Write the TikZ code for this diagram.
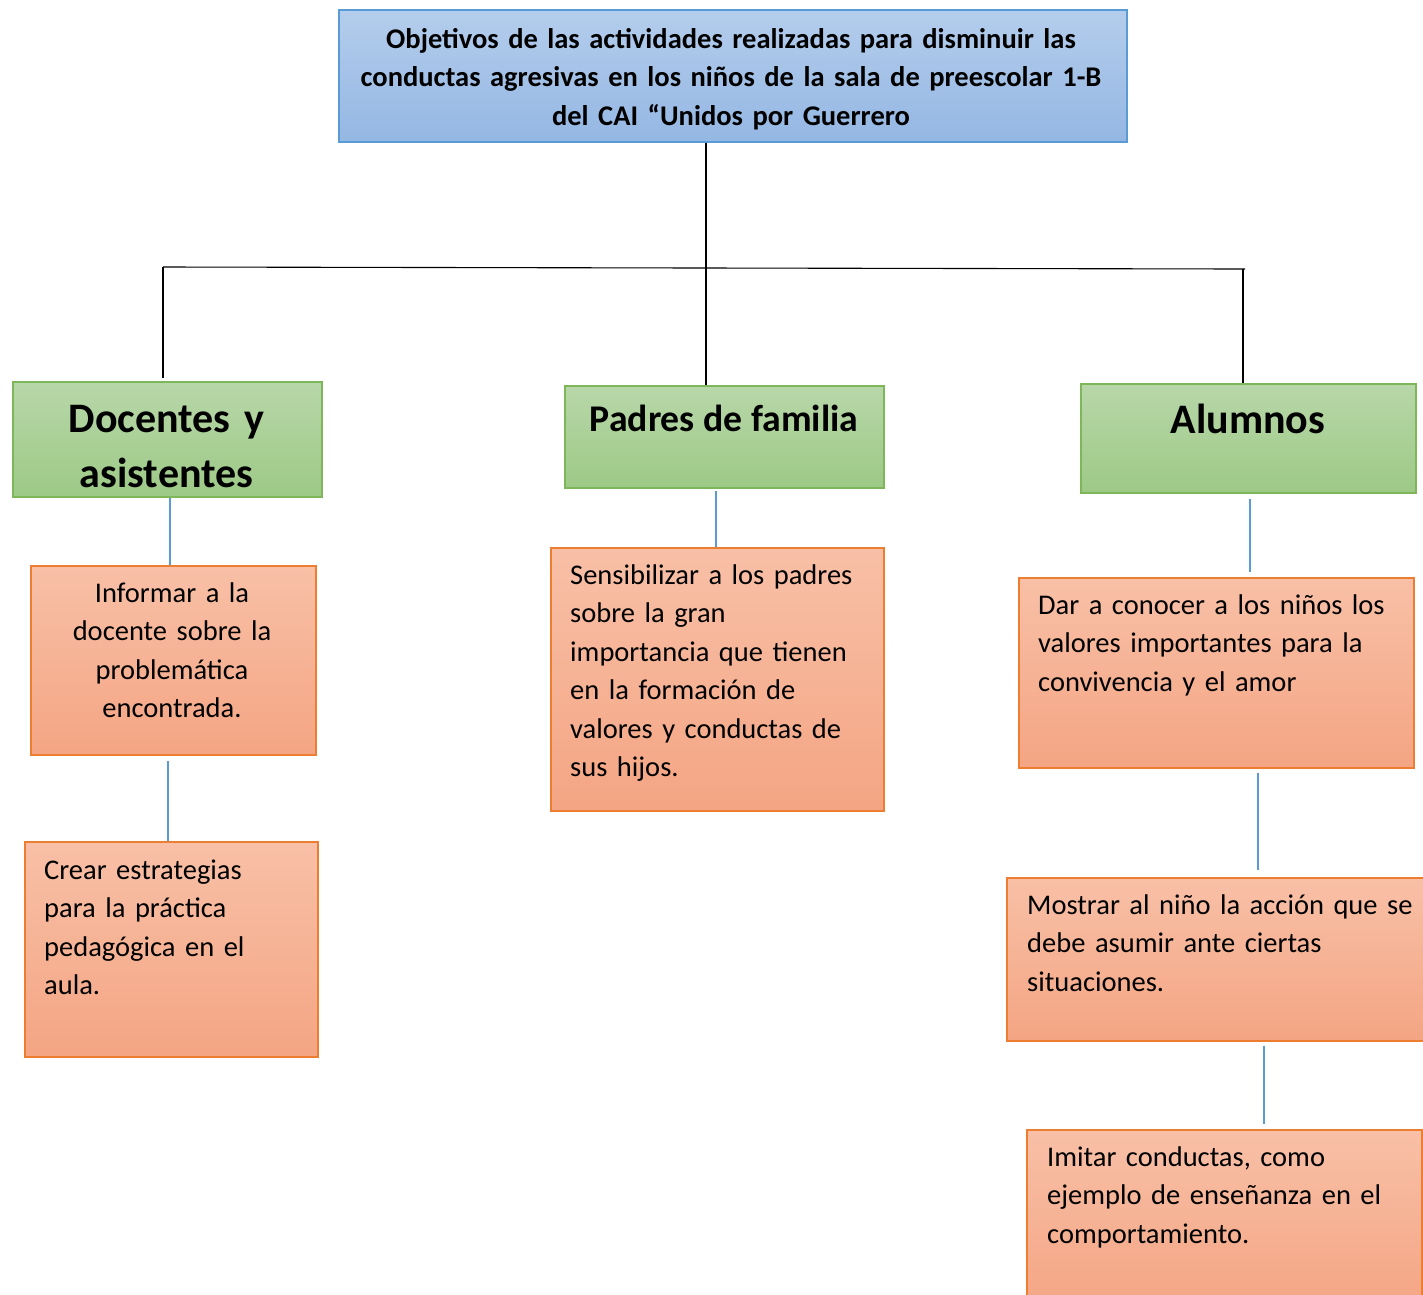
\documentclass[tikz,border=0pt]{standalone}
\usepackage{fontspec}
\setmainfont{Carlito}
\usepackage{tikz}
\definecolor{bluetop}{RGB}{180,205,236}
\definecolor{bluebot}{RGB}{148,183,227}
\definecolor{blueline}{RGB}{91,155,213}
\definecolor{greentop}{RGB}{184,215,169}
\definecolor{greenbot}{RGB}{157,201,134}
\definecolor{greenline}{RGB}{125,183,90}
\definecolor{orangetop}{RGB}{248,192,167}
\definecolor{orangebot}{RGB}{244,165,131}
\definecolor{orangeline}{RGB}{237,125,49}
\newcommand{\objbox}[6]{\node[#6, minimum width=#4pt, minimum height=#5pt, anchor=north west] (#1) at (#2,#3) {};}
\newcommand{\bodytext}{\fontsize{28.5}{38.5}\selectfont}

\begin{document}
\begin{tikzpicture}[x=1pt, y=-1pt,
    titlebox/.style={draw=blueline, line width=1.5pt, top color=bluetop, bottom color=bluebot, inner sep=0pt},
    groupbox/.style={draw=greenline, line width=1.5pt, top color=greentop, bottom color=greenbot, inner sep=0pt},
    actbox/.style={draw=orangeline, line width=1.5pt, top color=orangetop, bottom color=orangebot, inner sep=0pt},
    txt/.style={inner sep=0pt, font=\bodytext, align=left},
    tree/.style={draw=black, line width=1.1pt},
    tie/.style={draw=blueline, line width=1.5pt}]
\useasboundingbox (0,0) rectangle (1423,1294);
\objbox{titulo}{338}{9}{788}{132}{titlebox}
\objbox{docentes}{12}{381}{309}{115}{groupbox}
\objbox{padres}{564}{385}{319}{102}{groupbox}
\objbox{alumnos}{1080}{383}{335}{109}{groupbox}
\objbox{informar}{30}{565}{285}{189}{actbox}
\objbox{crear}{24}{841}{293}{215}{actbox}
\objbox{sensibilizar}{550}{547}{333}{263}{actbox}
\objbox{dar}{1018}{577}{395}{190}{actbox}
\objbox{mostrar}{1006}{877}{417}{163}{actbox}
\objbox{imitar}{1026}{1129}{395}{180}{actbox}
% texts
\node[txt, anchor=base, text width=760pt, align=center, font=\bfseries\bodytext] (titulot) at (731,48)
  {Objetivos de las actividades realizadas para disminuir las\\ conductas agresivas en los niños de la sala de preescolar 1-B\\ del CAI “Unidos por Guerrero};
\node[txt, anchor=base, text width=300pt, align=center, font=\bfseries\fontsize{42}{55}\selectfont] (docentest) at (166.5,432) {Docentes y\\ asistentes};
\node[txt, anchor=base, font=\bfseries\fontsize{37.7}{44}\selectfont] (padrest) at (724,431) {Padres de familia};
\node[txt, anchor=base, font=\bfseries\fontsize{42}{55}\selectfont] (alumnost) at (1248,433) {Alumnos};
\node[txt, anchor=base, text width=270pt, align=center] (informart) at (172,602)
  {Informar a la\\ docente sobre la\\ problemática\\ encontrada.};
\node[txt, anchor=base west, text width=260pt] (creart) at (44,879)
  {Crear estrategias\\ para la práctica\\ pedagógica en el\\ aula.};
\node[txt, anchor=base west, text width=310pt] (sensibilizart) at (570,584)
  {Sensibilizar a los padres\\ sobre la gran\\ importancia que tienen\\ en la formación de\\ valores y conductas de\\ sus hijos.};
\node[txt, anchor=base west, text width=370pt] (dart) at (1038,614)
  {Dar a conocer a los niños los\\ valores importantes para la\\ convivencia y el amor};
\node[txt, anchor=base west, text width=390pt] (mostrart) at (1027,914)
  {Mostrar al niño la acción que se\\ debe asumir ante ciertas\\ situaciones.};
\node[txt, anchor=base west, text width=370pt] (imitart) at (1047,1166)
  {Imitar conductas, como\\ ejemplo de enseñanza en el\\ comportamiento.};
% tree lines
\coordinate (jl) at (163,267);
\coordinate (jm) at (706,268);
\coordinate (jr) at (1245,269);
\draw[tree] (jl) -- (jr);
\draw[tree] (titulo.south -| jm) -- (padres.north -| jm);
\draw[tree, shorten >=3pt] (jl) -- (docentes.north -| jl);
\draw[tree] ([xshift=-2pt]jr) -- ([xshift=-2pt]alumnos.north -| jr);
% blue ties
\draw[tie] ([xshift=2.5pt]docentes.south) -- ([xshift=2.5pt]docentes.south |- informar.north);
\draw[tie, shorten <=5pt] ([xshift=-5.5pt]informar.south) -- ([xshift=-5.5pt]informar.south |- crear.north);
\draw[tie, shorten <=2pt] ([xshift=-8.5pt]padres.south) -- ([xshift=-8.5pt]padres.south |- sensibilizar.north);
\draw[tie, shorten <=5pt, shorten >=5pt] ([xshift=1.5pt]alumnos.south) -- ([xshift=1.5pt]alumnos.south |- dar.north);
\draw[tie, shorten <=4pt, shorten >=7pt] ([xshift=41.5pt]dar.south) -- ([xshift=41.5pt]dar.south |- mostrar.north);
\draw[tie, shorten <=4pt, shorten >=5pt] ([xshift=48.5pt]mostrar.south) -- ([xshift=48.5pt]mostrar.south |- imitar.north);
\end{tikzpicture}
\end{document}
